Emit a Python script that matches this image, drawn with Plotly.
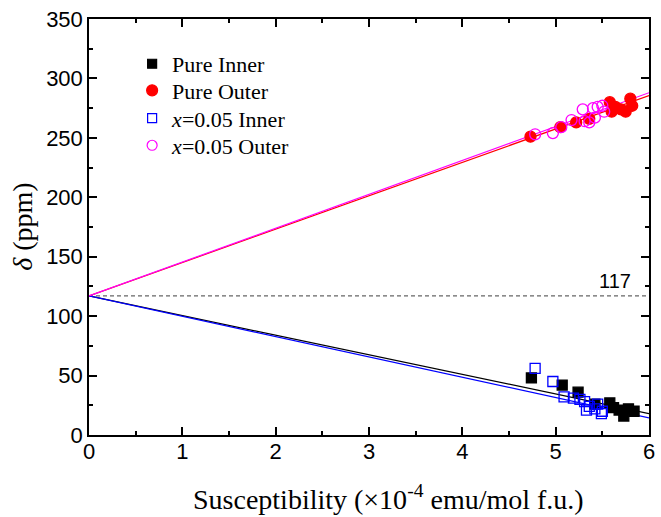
import plotly.graph_objects as go

# ---- data ----
pure_inner_x = [4.74, 5.07, 5.24, 5.42, 5.58, 5.62, 5.68, 5.73, 5.78, 5.84]
pure_inner_y = [48, 42, 36, 26, 27, 23, 21, 16, 22, 20]

pure_outer_x = [4.73, 5.05, 5.22, 5.36, 5.58, 5.60, 5.64, 5.70, 5.75, 5.80, 5.82]
pure_outer_y = [251, 259, 263, 266, 280, 272, 276, 274, 272, 283, 277]

x05_inner_x = [4.78, 4.97, 5.09, 5.19, 5.26, 5.31, 5.33, 5.36, 5.42, 5.45, 5.49, 5.50]
x05_inner_y = [56, 45, 32, 31, 30, 28, 21, 24, 22, 26, 18, 20]

x05_outer_x = [4.78, 4.97, 5.06, 5.17, 5.29, 5.31, 5.36, 5.40, 5.42, 5.45, 5.50, 5.52]
x05_outer_y = [253, 254, 259, 265, 274, 264, 263, 275, 267, 276, 277, 272]

series_names = ["Pure Inner", "Pure Outer", "<i>x</i>=0.05 Inner", "<i>x</i>=0.05 Outer"]
series_symbols = ["square", "circle", "square-open", "circle-open"]
series_colors = ["black", "red", "blue", "magenta"]

intercept = 117
fit_slopes = [-16.5, 28.1, -17.1, 28.5]
fit_x = [0, 6]

ref_x = [0, 6]
ref_y = [117, 117]

x_title = "Susceptibility (×10<sup>-4</sup> emu/mol f.u.)"
y_title = "<i>δ</i> (ppm)"

serif = "Liberation Serif"
sans = "Liberation Sans"

fig = go.Figure()

# reference dashed line
fig.add_trace(go.Scatter(x=ref_x, y=ref_y, mode="lines",
                         line=dict(color="#666666", width=1.2, dash="4px,3px"),
                         showlegend=False, hoverinfo="skip"))

# fit lines
for s, c in zip(fit_slopes, series_colors):
    fig.add_trace(go.Scatter(x=fit_x, y=[intercept + s * xv for xv in fit_x],
                             mode="lines", line=dict(color=c, width=1.2),
                             showlegend=False))

# data
data_x = [pure_inner_x, pure_outer_x, x05_inner_x, x05_outer_x]
data_y = [pure_inner_y, pure_outer_y, x05_inner_y, x05_outer_y]
sizes = [10, 11, 10, 11]
for xs, ys, name, sym, col, sz in zip(data_x, data_y, series_names, series_symbols,
                                      series_colors, sizes):
    fig.add_trace(go.Scatter(x=xs, y=ys, mode="markers", name=name, showlegend=False,
                             marker=dict(symbol=sym, size=sz, color=col,
                                         line=dict(width=1.3, color=col))))

# legend entries (one legend per row for exact spacing)
legend_rows = [0.892, 0.828, 0.761, 0.696]
legend_keys = ["legend", "legend2", "legend3", "legend4"]
leg_sizes = [9, 11, 9, 10]
for name, sym, col, key, sz in zip(series_names, series_symbols, series_colors,
                                   legend_keys, leg_sizes):
    fig.add_trace(go.Scatter(x=[None], y=[None], mode="markers", name=name,
                             legend=key, showlegend=True,
                             marker=dict(symbol=sym, size=sz, color=col,
                                         line=dict(width=1.2, color=col))))

fig.add_annotation(x=5.83, y=117, xanchor="right", yanchor="bottom", yshift=2,
                   text="117", showarrow=False,
                   font=dict(family=sans, size=20, color="black"))

# axis titles
fig.add_annotation(xref="paper", yref="paper", x=0.535, y=-0.151,
                   xanchor="center", yanchor="middle", showarrow=False,
                   text=x_title, font=dict(family=serif, size=28, color="black"))
fig.add_annotation(xref="paper", yref="paper", x=-0.120, y=0.5, textangle=-90,
                   xanchor="center", yanchor="middle", showarrow=False,
                   text=y_title, font=dict(family=serif, size=28, color="black"))

axis_common = dict(showline=True, linecolor="black", linewidth=1.5, mirror="ticks",
                   ticks="inside", ticklen=8, tickwidth=1.5, tickcolor="black",
                   showgrid=False, zeroline=False,
                   tickfont=dict(family=sans, size=22, color="black"))

fig.update_xaxes(range=[0, 6], dtick=1, ticklabelstandoff=-4,
                 minor=dict(ticks="inside", ticklen=4, dtick=0.5, tickcolor="black", tickwidth=1.5),
                 **axis_common)
fig.update_yaxes(range=[0, 350], dtick=50,
                 minor=dict(ticks="inside", ticklen=4, dtick=25, tickcolor="black", tickwidth=1.5),
                 **axis_common)

leg_common = dict(x=0.077, xanchor="left", yanchor="middle", bgcolor="rgba(0,0,0,0)",
                  font=dict(family=serif, size=22, color="black"), itemsizing="trace")
layout_legends = {key: dict(y=yv, **leg_common) for key, yv in zip(legend_keys, legend_rows)}

fig.update_layout(
    width=661, height=517,
    margin=dict(l=89, r=6, t=19, b=82),
    plot_bgcolor="white", paper_bgcolor="white",
    **layout_legends,
)

fig.write_html("out.html")
